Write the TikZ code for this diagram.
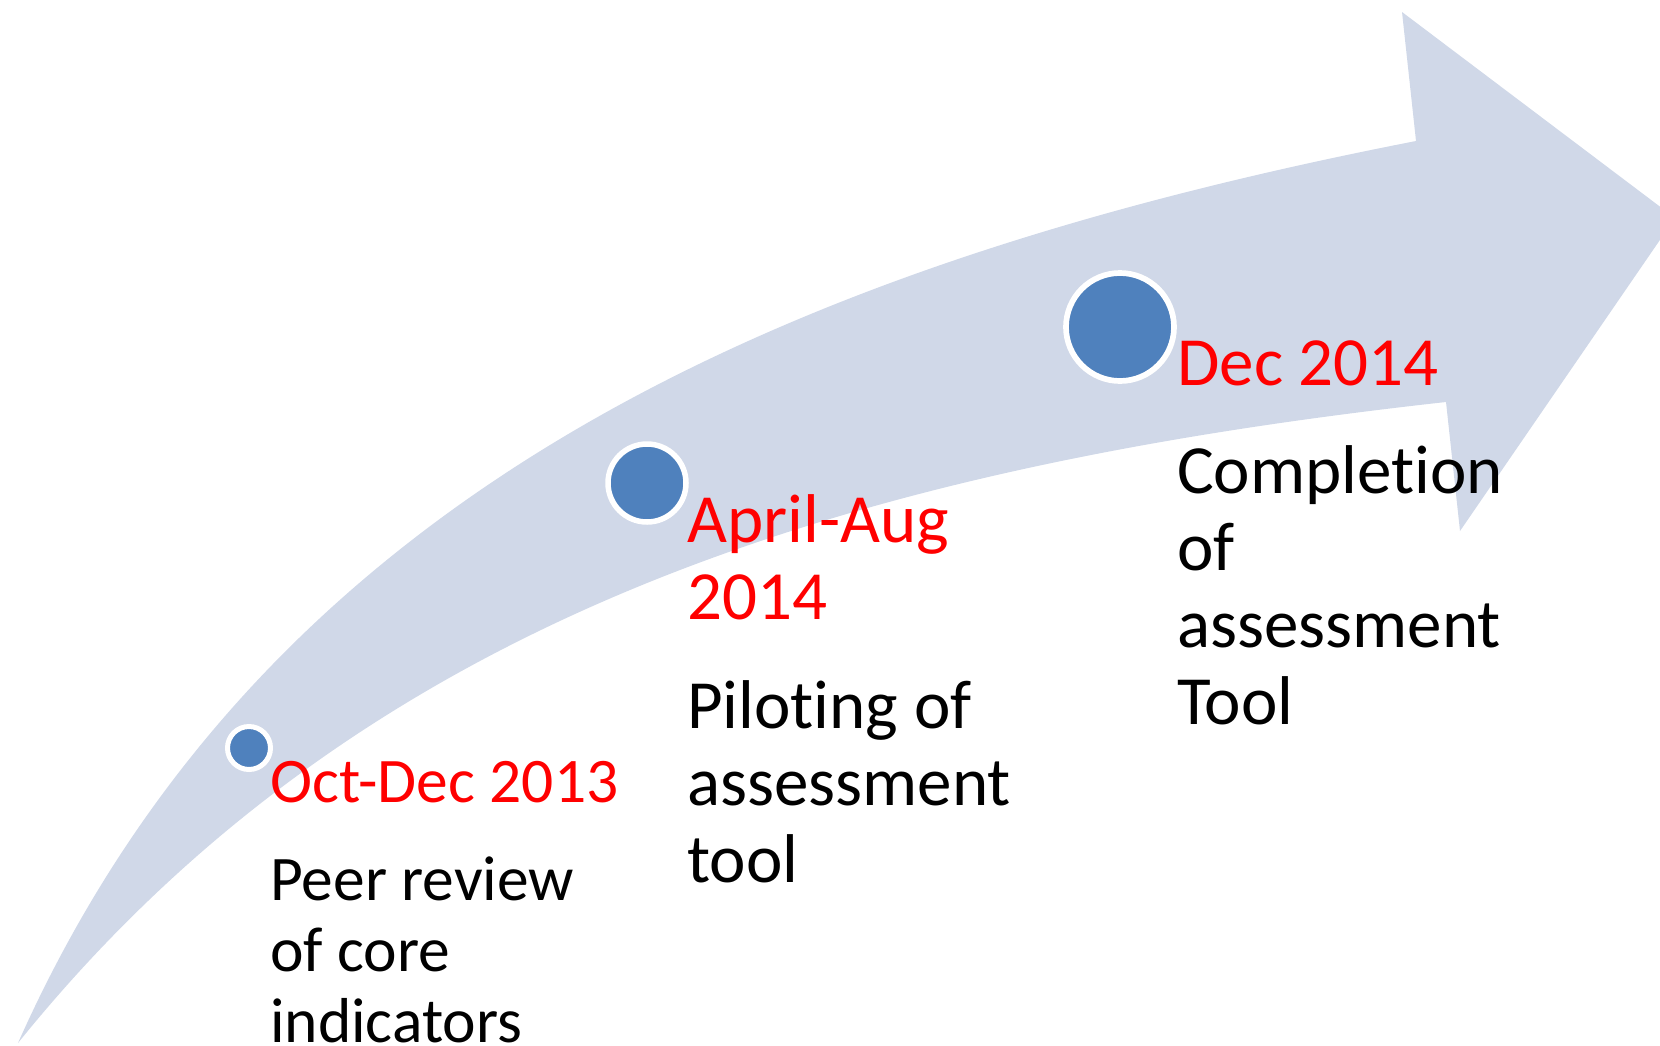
\documentclass[tikz,border=0pt]{standalone}
\usepackage{fontspec}
\setmainfont[Ligatures=NoCommon]{Carlito}
\usetikzlibrary{calc,positioning}
\definecolor{arrowfill}{HTML}{D0D8E8}
\definecolor{dotblue}{HTML}{4F81BD}
\definecolor{datered}{HTML}{FF0000}
\tikzset{
    milestone/.style = {circle, fill=dotblue, draw=white, inner sep=0pt},
    datelabel/.style = {text=datered, anchor=base west, align=left, inner sep=0pt},
    tasklabel/.style = {text=black, anchor=base west, align=left, inner sep=0pt},
    textsmall/.style = {font=\fontsize{63.5bp}{71bp}\selectfont},
    textlarge/.style = {font=\fontsize{69bp}{77bp}\selectfont}
}

\begin{document}
\begin{tikzpicture}[x=1bp, y=-1bp]
    \useasboundingbox (0,0) rectangle (1660,1045);
    \fill[arrowfill] (18,1043) .. controls (262,495) and (780,265) .. (1416,141)
        -- (1402,12) -- (1675,218) -- (1460,531) -- (1446,402)
        .. controls (850,468) and (363,615) .. (18,1043) -- cycle;
    \node[milestone, minimum size=43bp, line width=5bp] (m1) at (249,748) {};
    \node[milestone, minimum size=78bp, line width=5.5bp] (m2) at (647,483) {};
    \node[milestone, minimum size=108bp, line width=5.7bp] (m3) at (1120,327) {};
    \node[datelabel, textsmall] (d1) at (270,802) {Oct-Dec 2013};
    \node[tasklabel, textsmall] (t1) at ($(d1.base west)+(0,240)$) {Peer review\\of core\\indicators};
    \node[datelabel, textlarge] (d2) at (687,619) {April-Aug\\2014};
    \node[tasklabel, textlarge] (t2) at ($(d2.base west)+(0,263)$) {Piloting of\\assessment\\tool};
    \node[datelabel, textlarge] (d3) at (1177,385) {Dec 2014};
    \node[tasklabel, textlarge] (t3) at ($(d3.base west)+(0,339)$) {Completion\\of\\assessment\\Tool};
\end{tikzpicture}
\end{document}
